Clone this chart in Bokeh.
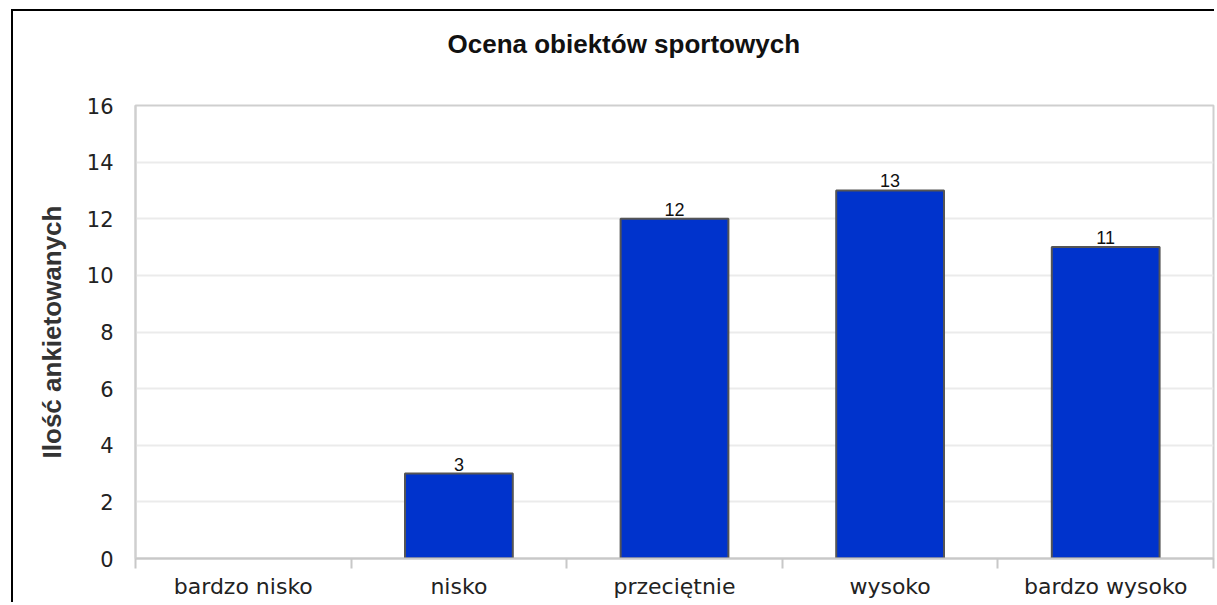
from bokeh.plotting import figure
from bokeh.models import Range1d, FixedTicker, ColumnDataSource, Title
from bokeh.core.properties import value
from bokeh.embed import file_html
from bokeh.resources import INLINE

title = "Ocena obiektów sportowych"
y_label = "Ilość ankietowanych"
categories = ["bardzo nisko", "nisko", "przeciętnie", "wysoko", "bardzo wysoko"]
counts = [0, 3, 12, 13, 11]
y_ticks = [0, 2, 4, 6, 8, 10, 12, 14, 16]

xs = [i + 0.5 for i in range(len(categories))]
outline = ["#555555" if c > 0 else None for c in counts]
src = ColumnDataSource(dict(x=xs, top=counts, lc=outline))
lab_x = [x for x, c in zip(xs, counts) if c > 0]
lab_y = [c for c in counts if c > 0]
lab_t = [str(c) for c in counts if c > 0]
lab_src = ColumnDataSource(dict(x=lab_x, y=lab_y, t=lab_t))

p = figure(width=1203, height=593, output_backend="svg", toolbar_location=None,
           x_range=Range1d(0, len(categories)), y_range=Range1d(0, y_ticks[-1]),
           min_border_left=122, min_border_right=3, min_border_top=93, min_border_bottom=46)
p.styles = {"position": "relative", "left": "13px", "top": "11px",
            "box-shadow": "-2px -2px 0 0 black",
            "clip-path": "inset(-2px 0px 0px -2px)"}

# spacer between plot area and title
p.add_layout(Title(text=" ", text_font_size="1px", standoff=28), "above")
p.add_layout(Title(text=title, align="left", offset=312, standoff=31,
                   text_font="Liberation Sans", text_font_style="bold",
                   text_font_size="26px", text_color="#111111"), "above")

p.vbar(x="x", top="top", width=0.5, source=src, fill_color="#0033cc",
       line_color="lc", line_width=2)
p.text(x="x", y="y", text="t", source=lab_src, text_align="center", text_baseline="bottom",
       y_offset=-3, text_font=value("Liberation Sans"), text_font_size="18px",
       text_color="#111111")

p.outline_line_color = "#cfcfcf"
p.outline_line_width = 2
p.xgrid.grid_line_color = None
p.ygrid.grid_line_color = "#ebebeb"
p.ygrid.grid_line_width = 2
p.ygrid.ticker = FixedTicker(ticks=y_ticks)

p.xaxis.ticker = FixedTicker(ticks=xs, minor_ticks=list(range(len(categories) + 1)))
p.xaxis.major_label_overrides = {x: c for x, c in zip(xs, categories)}
p.xaxis.axis_line_color = "#c8c8c8"
p.xaxis.axis_line_width = 2
p.xaxis.major_tick_line_color = None
p.xaxis.major_tick_out = 0
p.xaxis.major_tick_in = 0
p.xaxis.minor_tick_line_color = "#c8c8c8"
p.xaxis.minor_tick_line_width = 2
p.xaxis.minor_tick_in = 0
p.xaxis.minor_tick_out = 10
p.xaxis.major_label_standoff = 5
p.xaxis.major_label_text_font = "DejaVu Sans"
p.xaxis.major_label_text_font_size = "22px"
p.xaxis.major_label_text_color = "#222222"

p.yaxis.ticker = FixedTicker(ticks=y_ticks)
p.yaxis.axis_line_color = "#cfcfcf"
p.yaxis.axis_line_width = 2
p.yaxis.major_tick_line_color = None
p.yaxis.major_tick_out = 0
p.yaxis.major_tick_in = 0
p.yaxis.minor_tick_line_color = None
p.yaxis.major_label_standoff = 22
p.yaxis.major_label_text_font = "DejaVu Sans"
p.yaxis.major_label_text_font_size = "21px"
p.yaxis.major_label_text_color = "#222222"
p.yaxis.axis_label = y_label
p.yaxis.axis_label_text_font = "Liberation Sans"
p.yaxis.axis_label_text_font_style = "bold"
p.yaxis.axis_label_text_font_size = "26px"
p.yaxis.axis_label_text_color = "#333333"
p.yaxis.axis_label_standoff = 17

open("out.html", "w").write(file_html(p, INLINE))
